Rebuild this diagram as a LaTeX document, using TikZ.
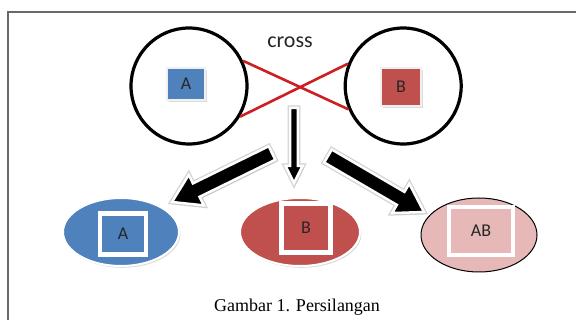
\documentclass[tikz,border=0pt]{standalone}
\usepackage{fontspec}
\setmainfont{Liberation Serif}
\setsansfont{Carlito}
\usepackage{tikz}
\usetikzlibrary{positioning,shapes.geometric,shadows,calc}
\definecolor{warnabiru}{RGB}{79,129,189}
\definecolor{warnamerah}{RGB}{192,80,77}
\definecolor{warnamerahmuda}{RGB}{230,185,184}
\definecolor{warnagaris}{RGB}{205,30,35}
\definecolor{warnaabu}{RGB}{105,105,105}

\begin{document}
\begin{tikzpicture}[x=1pt, y=-1pt,
  lingkaran/.style={circle, draw=black, line width=3.2pt, minimum size=116pt, inner sep=0pt},
  bayangan/.style={drop shadow={shadow xshift=1.5pt, shadow yshift=-1.8pt, fill=gray!55}},
  kotakkecil/.style={rectangle, fill=#1, draw=gray!12, line width=2.5pt, bayangan,
                     font=\sffamily\fontsize{18}{20}\selectfont, text=black!85},
  kotakdalam/.style={rectangle, fill=#1, draw=white, line width=4.5pt, bayangan,
                     font=\sffamily\fontsize{18}{20}\selectfont, text=black!85},
  elips/.style={ellipse, minimum width=116pt, minimum height=68pt, inner sep=0pt},
  panah/.style={fill=black, draw=white, line width=2.5pt, line join=miter,
                preaction={draw=gray!35, line width=5pt}, bayangan},
  silang/.style={draw=warnagaris, line width=2.6pt}
]
  \useasboundingbox (0,0) rectangle (576,320);
  \draw[warnaabu, line width=1.5pt] (8,320) -- (8,12) -- (576,12);

  % induk
  \node[lingkaran] (indukA) at (189,86) {};
  \node[lingkaran, right=95pt of indukA] (indukB) {};
  \node[kotakkecil=warnabiru, minimum width=38pt, minimum height=32pt] (kotakA) at (186,84) {A};
  \node[kotakkecil=warnamerah, minimum width=40pt, minimum height=38pt] (kotakB) at (401,87) {B};
  \node[font=\sffamily\fontsize{22}{26}\selectfont, text=black!85] (teks) at (290,42) {cross};

  \draw[silang] (indukA.25) -- (indukB.203);
  \draw[silang] (indukA.-31) -- (indukB.158);

  % keturunan
  \node[elips, fill=warnabiru, draw=white, line width=2pt, bayangan] (anakA) at (121,232) {};
  \node[elips, fill=warnamerah, draw=white, line width=2pt, bayangan, minimum width=120pt] (anakB) at (300,232) {};
  \node[elips, fill=warnamerahmuda, draw=black, line width=1pt, minimum height=74pt] (anakAB) at (479,235) {};
  \node[kotakdalam=warnabiru, minimum width=46pt, minimum height=41pt] (dalamA) at (123,234) {A};
  \node[kotakdalam=warnamerah, minimum width=49pt, minimum height=49pt] (dalamB) at (306,228) {B};
  \node[kotakdalam=warnamerahmuda, minimum width=64pt, minimum height=48pt] (dalamAB) at (481,231) {AB};

  % panah
  \coordinate (awalkiri) at (272,153);
  \coordinate (ujungkiri) at (172,202);
  \coordinate (awaltengah) at (294,108);
  \coordinate (ujungtengah) at (294,183);
  \coordinate (awalkanan) at (328,156);
  \coordinate (ujungkanan) at (424,212);
  \foreach \awal/\ujung/\w/\h/\L in {awalkiri/ujungkiri/7.5/17/27,
                                     awaltengah/ujungtengah/3.8/8.5/17,
                                     awalkanan/ujungkanan/7.5/17/27}{
    \coordinate (leher) at ($(\ujung)!\L pt!(\awal)$);
    \filldraw[panah] ($(\awal)!\w pt!90:(\ujung)$) -- ($(leher)!\w pt!90:(\ujung)$)
      -- ($(leher)!\h pt!90:(\ujung)$) -- (\ujung) -- ($(leher)!\h pt!-90:(\ujung)$)
      -- ($(leher)!\w pt!-90:(\ujung)$) -- ($(\awal)!\w pt!-90:(\ujung)$) -- cycle;
  }

  \node[font=\fontsize{18}{22}\selectfont] (judul) at (297,307) {Gambar 1. Persilangan};
\end{tikzpicture}
\end{document}
